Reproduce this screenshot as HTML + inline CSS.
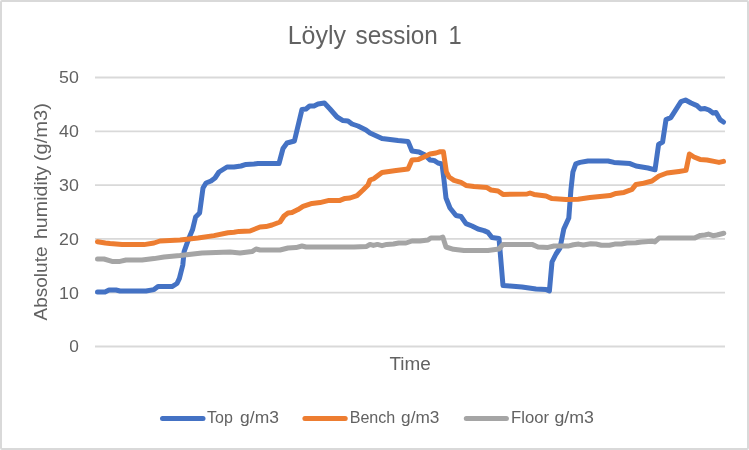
<!DOCTYPE html>
<html><head><meta charset="utf-8"><title>Löyly session 1</title>
<style>
html,body{margin:0;padding:0;background:#fff;}
body{width:749px;height:450px;overflow:hidden;font-family:"Liberation Sans",sans-serif;}
svg{display:block;will-change:transform;}
text{font-family:"Liberation Sans",sans-serif;fill:#626262;}
</style></head><body>
<svg width="749" height="450" viewBox="0 0 749 450">
<rect x="0" y="0" width="749" height="450" fill="#fff"/>
<rect x="1" y="1" width="747" height="448" rx="1" fill="#fff" stroke="#D9D9D9" stroke-width="2"/>
<g stroke="#D9D9D9" stroke-width="1.8" fill="none">
<line x1="95" x2="725" y1="77.5" y2="77.5"/>
<line x1="95" x2="725" y1="131.3" y2="131.3"/>
<line x1="95" x2="725" y1="185.1" y2="185.1"/>
<line x1="95" x2="725" y1="238.9" y2="238.9"/>
<line x1="95" x2="725" y1="292.7" y2="292.7"/>
<line x1="95" x2="725" y1="346.5" y2="346.5"/>
</g>
<text x="287.63" y="43.6" font-size="25.4" textLength="58.37" lengthAdjust="spacingAndGlyphs">Löyly</text>
<text x="355.50" y="43.6" font-size="25.4" textLength="82.37" lengthAdjust="spacingAndGlyphs">session</text>
<text x="448.47" y="43.6" font-size="25.4" textLength="13.18" lengthAdjust="spacingAndGlyphs">1</text>
<text x="389.50" y="370.1" font-size="18.3" textLength="41.37" lengthAdjust="spacingAndGlyphs">Time</text>
<text x="207.10" y="423.4" font-size="15.8" textLength="25.78" lengthAdjust="spacingAndGlyphs">Top</text>
<text x="240.10" y="423.4" font-size="15.8" textLength="38.76" lengthAdjust="spacingAndGlyphs">g/m3</text>
<text x="349.68" y="423.4" font-size="15.8" textLength="45.62" lengthAdjust="spacingAndGlyphs">Bench</text>
<text x="401.10" y="423.4" font-size="15.8" textLength="38.27" lengthAdjust="spacingAndGlyphs">g/m3</text>
<text x="511.05" y="423.4" font-size="15.8" textLength="37.93" lengthAdjust="spacingAndGlyphs">Floor</text>
<text x="554.50" y="423.4" font-size="15.8" textLength="39.46" lengthAdjust="spacingAndGlyphs">g/m3</text>
<text transform="translate(47.2 320.40) rotate(-90)" font-size="18.3" textLength="73.87" lengthAdjust="spacingAndGlyphs">Absolute</text>
<text transform="translate(47.2 239.07) rotate(-90)" font-size="18.3" textLength="73.15" lengthAdjust="spacingAndGlyphs">humidity</text>
<text transform="translate(47.2 161.20) rotate(-90)" font-size="18.3" textLength="58.10" lengthAdjust="spacingAndGlyphs">(g/m3)</text>
<g font-size="15.9">
<text x="59.1" y="83.4" textLength="19.8" lengthAdjust="spacingAndGlyphs">50</text>
<text x="59.1" y="137.2" textLength="19.8" lengthAdjust="spacingAndGlyphs">40</text>
<text x="59.1" y="191" textLength="19.8" lengthAdjust="spacingAndGlyphs">30</text>
<text x="59.1" y="244.8" textLength="19.8" lengthAdjust="spacingAndGlyphs">20</text>
<text x="59.1" y="298.6" textLength="19.8" lengthAdjust="spacingAndGlyphs">10</text>
<text x="69.3" y="352.4" textLength="9.6" lengthAdjust="spacingAndGlyphs">0</text>
</g>
<g fill="none" stroke-width="5" stroke-linecap="round" stroke-linejoin="round">
<polyline stroke="#4472C4" points="97.5,292 105,292 109,290 116,290 120,291 146,291 154,289.6 158,286.6 172,286.6 177,283.5 179.4,278.4 182.8,265 184.1,251.7 188.8,238.4 192.5,229.8 195.6,217 199.6,213 203,188 206,183 211,181 215,178 219,172 227,167 234,167 241,166 246,164.4 254,164 258,163.5 279,163.5 283,148.5 287,143 294.4,141 302,109.4 306,109 309.6,106 314,106 318,104 324.4,103 330,109 337,117 343,120.6 348,121 352,124 358,126 366,130 370,133 382,138.6 390,139.6 398,140.6 408,141.4 412,151 419,152 425,155 430,160 434,160.4 438,163 442,164 444,180 446,198 450,208 456,215.5 461,216.5 466,223.6 472,226 478,229 484,230.6 488,232.4 492,237.6 499,238.4 500,250 503,285.6 510,286 522,287 536,289 546,289.4 549.4,291 552,262 556,254 560,248 563.8,229 568.8,218 570.9,190 572.9,172 575.8,163.8 580,162.4 588,161 608,161 614,162.4 630,163.6 636,166 648,168 655,169.8 658.6,144.4 662.6,142 666,119.6 670.8,117.6 681,101.6 685.5,100 691,103 697,105.6 700.6,109 705,108.6 709,110 713,113 716,112.6 720,119.6 723.5,122"/>
<polyline stroke="#ED7D31" points="97.5,241.7 105.4,243 110,243.6 122,244.6 144,244.6 154,243 160,241 180,240 198,238 214,235.6 228,232.8 234,232.2 239,231.4 250,231 260,227 266,226.6 272,225 280,222 284,216 288,213 292,212.6 298,209.6 303,206.4 312,203.4 320,202.6 329,200.4 340,200.4 345,198.4 350,198 357,195.6 363,190 368,185 370,180 374,178.6 382,172.4 396,170.6 408,169 412,160 418,159.6 424,157 430,154 436,153 439.5,151.8 443.4,151.8 446.4,172 449,177 454,180.4 461,182.4 466,185.4 474,186.4 487,187.6 491,190 498,191 503,194.4 527,194 530,193 534,194.4 546,196 552,198.6 566,199.6 578,199.2 590,197.6 600,196.4 610,195.6 616,193.4 624,192.4 632,189.4 636,184.4 642,183.6 652,181 659,176 667,173 679,171.4 686,170.4 689.4,154 694,157 700,159.4 707,160 714,161.4 719,162.4 723.5,161.4"/>
<polyline stroke="#A5A5A5" points="97.5,259 104,259 112,261.4 120,261.4 126,260 142,260 154,258.6 164,257 180,255.6 202,253 230,252 240,253 252,251.6 256,249 260,250 280,250 288,248 296,247.6 302,246 306,247 354,247 366.7,246.4 370,244.4 373.4,245.4 377.4,244.4 382,245.7 386.7,244.4 393.4,244 398.7,243 406,243 412,241 420,241 428,240 430.8,238 440,238 442.8,237 446,247 453.5,249.3 464,250.4 488,250.4 499,249 503,244.4 532,244.4 538,247 548,247.4 554,246 568,246.1 573.4,244.8 578.7,244.1 583.4,245 590.7,243.7 596,244 601.4,245.3 609.4,245.3 614.7,244.1 621.4,244 626.8,243 636,242.8 641.4,242 652,241.3 654.8,241.9 659,238.1 694.4,238.1 700.4,235.4 705,235 708.4,234.1 713,235.7 717,235 723.8,233.3"/>
<line stroke="#4472C4" x1="162.5" x2="203" y1="418.4" y2="418.4"/>
<line stroke="#ED7D31" x1="304.9" x2="345.2" y1="418.4" y2="418.4"/>
<line stroke="#A5A5A5" x1="466.3" x2="506.4" y1="418.4" y2="418.4"/>
</g>
</svg>
</body></html>
